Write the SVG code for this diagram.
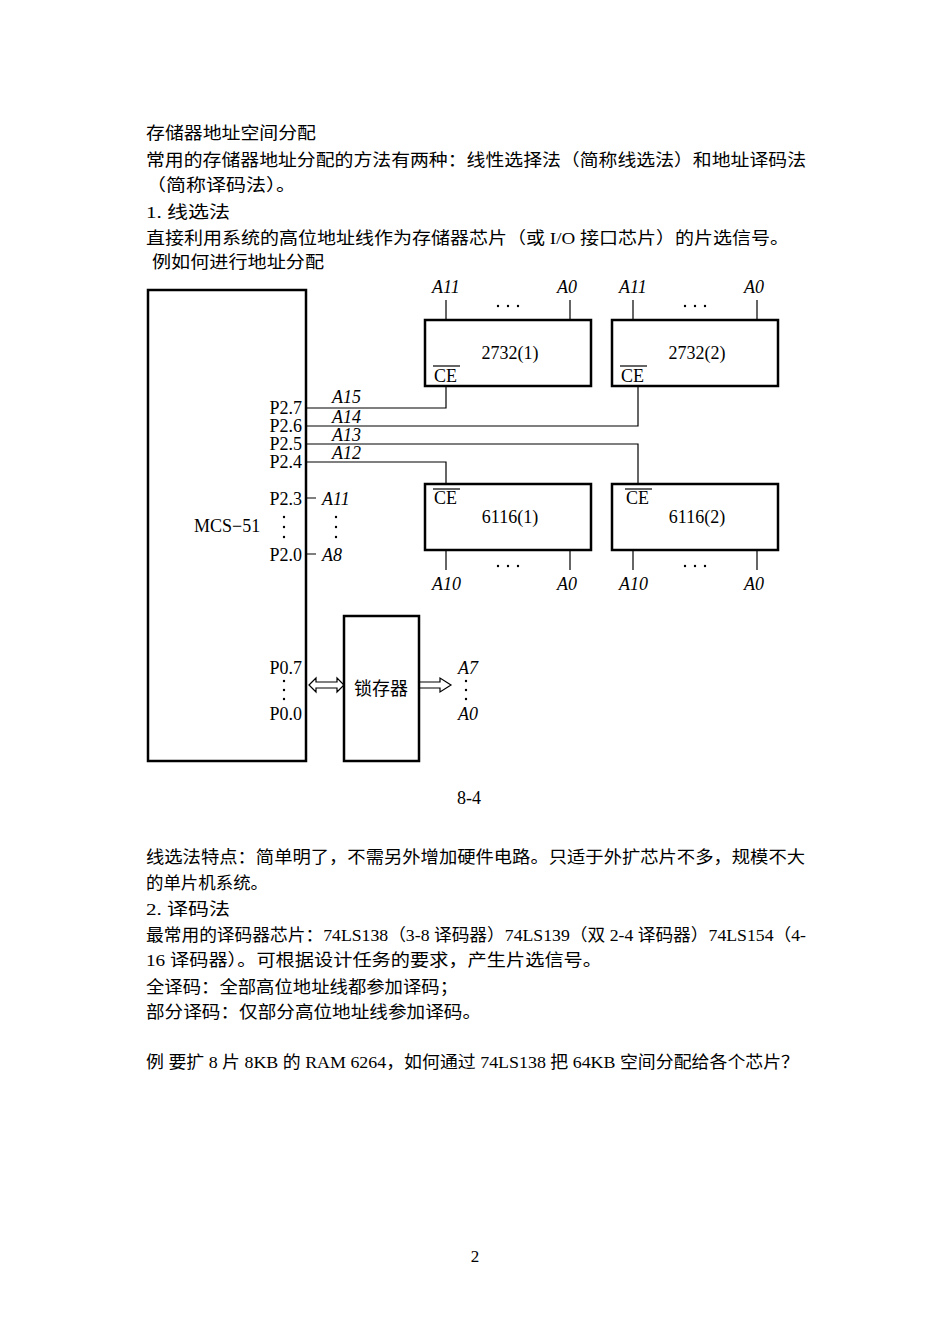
<svg xmlns="http://www.w3.org/2000/svg" width="950" height="1344" viewBox="0 0 950 1344">
<style>
.t{font-family:"Liberation Serif","Noto Sans CJK SC",serif;font-size:17px;fill:#000}
.d{font-family:"Liberation Serif","Noto Sans CJK SC",serif;font-size:18px;fill:#000}
.i{font-style:italic}
.b{fill:none;stroke:#000;stroke-width:2.5}
.w{fill:none;stroke:#000;stroke-width:1.2}
</style>
<rect width="950" height="1344" fill="#fff"/>
<g id="text-top" class="t">
<text x="146" y="139" textLength="170" lengthAdjust="spacingAndGlyphs">存储器地址空间分配</text>
<text x="146" y="166" textLength="660" lengthAdjust="spacingAndGlyphs">常用的存储器地址分配的方法有两种：线性选择法（简称线选法）和地址译码法</text>
<text x="146" y="191" textLength="150" lengthAdjust="spacingAndGlyphs">（简称译码法）。</text>
<text x="146" y="218" textLength="84" lengthAdjust="spacingAndGlyphs">1. 线选法</text>
<text x="146" y="244" textLength="643" lengthAdjust="spacingAndGlyphs">直接利用系统的高位地址线作为存储器芯片（或 I/O 接口芯片）的片选信号。</text>
<text x="152" y="268" textLength="172" lengthAdjust="spacingAndGlyphs">例如何进行地址分配</text>
</g>
<g id="mcs51">
<rect class="b" x="148" y="290" width="158" height="471"/>
<text class="d" x="194" y="532">MCS−51</text>
<g class="d" text-anchor="end">
<text x="302" y="414">P2.7</text><text x="302" y="432">P2.6</text>
<text x="302" y="450">P2.5</text><text x="302" y="468">P2.4</text>
<text x="302" y="505">P2.3</text><text x="302" y="561">P2.0</text>
<text x="302" y="674">P0.7</text><text x="302" y="720">P0.0</text>
</g>
</g>
<g id="latch">
<rect class="b" x="344" y="616" width="75" height="145"/>
<text class="d" x="381" y="695" text-anchor="middle">锁存器</text>
</g>
<g id="c2732-1">
<rect class="b" x="425" y="320" width="166" height="66"/>
<text class="d" x="510" y="359" text-anchor="middle">2732(1)</text>
<text class="d" x="434" y="382">CE</text><line class="w" x1="433" y1="366" x2="460" y2="366"/>
</g>
<g id="c2732-2">
<rect class="b" x="612" y="320" width="166" height="66"/>
<text class="d" x="697" y="359" text-anchor="middle">2732(2)</text>
<text class="d" x="621" y="382">CE</text><line class="w" x1="620" y1="366" x2="647" y2="366"/>
</g>
<g id="c6116-1">
<rect class="b" x="425" y="484" width="166" height="66"/>
<text class="d" x="510" y="523" text-anchor="middle">6116(1)</text>
<text class="d" x="434" y="504">CE</text><line class="w" x1="433" y1="489" x2="460" y2="489"/>
</g>
<g id="c6116-2">
<rect class="b" x="612" y="484" width="166" height="66"/>
<text class="d" x="697" y="523" text-anchor="middle">6116(2)</text>
<text class="d" x="626" y="504">CE</text><line class="w" x1="625" y1="489" x2="652" y2="489"/>
</g>
<g id="connectors">
<path class="w" d="M306 408H446V386M306 426H638V386M306 444H638V484M306 462H446V484"/>
<path class="w" d="M446 320V300M570 320V300M633 320V300M757 320V300M446 550V570M570 550V570M633 550V570M757 550V570"/>
<path class="w" d="M306 498H316M306 554H316"/>
<path class="w" d="M309 685L316 678V682H337V678L344 685L337 692V688H316V692Z"/>
<path class="w" d="M419 682H440V678L451 685L440 692V688H419"/>
</g>
<g id="dots" fill="#000">
<circle cx="284" cy="517" r="1.2"/><circle cx="284" cy="527" r="1.2"/><circle cx="284" cy="537" r="1.2"/>
<circle cx="336" cy="517" r="1.2"/><circle cx="336" cy="527" r="1.2"/><circle cx="336" cy="537" r="1.2"/>
<circle cx="284" cy="681" r="1.2"/><circle cx="284" cy="690" r="1.2"/><circle cx="284" cy="699" r="1.2"/>
<circle cx="466" cy="681" r="1.2"/><circle cx="466" cy="690" r="1.2"/><circle cx="466" cy="699" r="1.2"/>
<circle cx="498" cy="306" r="1.2"/><circle cx="508" cy="306" r="1.2"/><circle cx="518" cy="306" r="1.2"/>
<circle cx="685" cy="306" r="1.2"/><circle cx="695" cy="306" r="1.2"/><circle cx="705" cy="306" r="1.2"/>
<circle cx="498" cy="566" r="1.2"/><circle cx="508" cy="566" r="1.2"/><circle cx="518" cy="566" r="1.2"/>
<circle cx="685" cy="566" r="1.2"/><circle cx="695" cy="566" r="1.2"/><circle cx="705" cy="566" r="1.2"/>
</g>
<g id="labels" class="d i">
<text x="332" y="403">A15</text><text x="332" y="423">A14</text><text x="332" y="441">A13</text><text x="332" y="459">A12</text>
<text x="322" y="505">A11</text><text x="322" y="561">A8</text>
<text x="458" y="674">A7</text><text x="458" y="720">A0</text>
<text x="432" y="293">A11</text><text x="557" y="293">A0</text><text x="619" y="293">A11</text><text x="744" y="293">A0</text>
<text x="432" y="590">A10</text><text x="557" y="590">A0</text><text x="619" y="590">A10</text><text x="744" y="590">A0</text>
</g>
<text class="d" x="469" y="804" text-anchor="middle">8-4</text>
<g id="text-bottom" class="t">
<text x="146" y="863" textLength="659" lengthAdjust="spacingAndGlyphs">线选法特点：简单明了，不需另外增加硬件电路。只适于外扩芯片不多，规模不大</text>
<text x="146" y="889" textLength="122" lengthAdjust="spacingAndGlyphs">的单片机系统。</text>
<text x="146" y="915" textLength="84" lengthAdjust="spacingAndGlyphs">2. 译码法</text>
<text x="146" y="941" textLength="660" lengthAdjust="spacingAndGlyphs">最常用的译码器芯片：74LS138（3-8 译码器）74LS139（双 2-4 译码器）74LS154（4-</text>
<text x="146" y="966" textLength="456" lengthAdjust="spacingAndGlyphs">16 译码器）。可根据设计任务的要求，产生片选信号。</text>
<text x="146" y="993" textLength="312" lengthAdjust="spacingAndGlyphs">全译码：全部高位地址线都参加译码；</text>
<text x="146" y="1018" textLength="335" lengthAdjust="spacingAndGlyphs">部分译码：仅部分高位地址线参加译码。</text>
<text x="146" y="1068" textLength="653" lengthAdjust="spacingAndGlyphs">例 要扩 8 片 8KB 的 RAM 6264，如何通过 74LS138 把 64KB 空间分配给各个芯片？</text>
</g>
<text class="t" x="475" y="1262" text-anchor="middle" font-size="13">2</text>
</svg>
